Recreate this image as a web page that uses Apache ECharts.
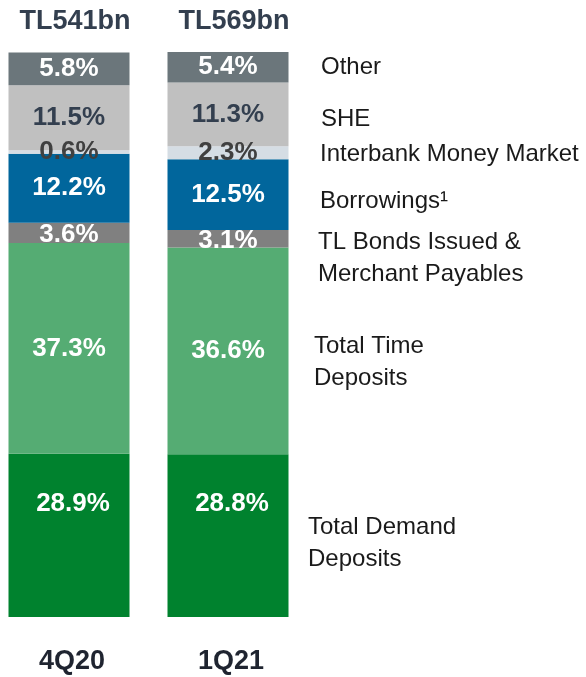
<!DOCTYPE html>
<html>
<head>
<meta charset="utf-8">
<script src="https://cdn.jsdelivr.net/npm/echarts@6/dist/echarts.min.js"></script>
<style>
  html, body { margin: 0; padding: 0; background: #fff; }
  #chart { width: 586px; height: 677px; }
</style>
</head>
<body>
<div id="chart"></div>
<script>
const periods = ["4Q20", "1Q21"];
const totals = ["TL541bn", "TL569bn"];

// stacked from bottom to top, values in %
const demandDeposits = [28.9, 28.8];
const timeDeposits = [37.3, 36.6];
const tlBonds = [3.6, 3.1];
const borrowings = [12.2, 12.5];
const interbank = [0.6, 2.3];
const she = [11.5, 11.3];
const other = [5.8, 5.4];

const FONT = "'Liberation Sans', Arial, sans-serif";

const makeSeries = (name, data, color, labelColor, extra) => ({
  name: name,
  type: "bar",
  stack: "total",
  barWidth: 121,
  data: data,
  itemStyle: { color: color },
  label: Object.assign(
    {
      show: true,
      position: "inside",
      formatter: "{c}%",
      fontFamily: FONT,
      fontWeight: "bold",
      fontSize: 26,
      color: labelColor,
    },
    extra || {}
  ),
});

const series = [
  makeSeries("Total Demand Deposits", demandDeposits, "#00822e", "#ffffff", { offset: [4, -32] }),
  makeSeries("Total Time Deposits", timeDeposits, "#55ac73", "#ffffff"),
  makeSeries("TL Bonds Issued & Merchant Payables", tlBonds, "#808080", "#ffffff", { offset: [0, 2] }),
  makeSeries("Borrowings", borrowings, "#01669c", "#ffffff"),
  makeSeries("Interbank Money Market", interbank, "#d5dde4", "#404040"),
  makeSeries("SHE", she, "#c0c0c0", "#333f4f"),
  makeSeries("Other", other, "#6b767b", "#ffffff"),
];

// legend-like text on the right
const sideLabels = [
  { text: "Other", x: 321, y: 67 },
  { text: "SHE", x: 321, y: 119 },
  { text: "Interbank Money Market", x: 320, y: 154 },
  { text: "Borrowings\u00b9", x: 320, y: 201 },
  { text: "TL Bonds Issued &\nMerchant Payables", x: 318, y: 258 },
  { text: "Total Time\nDeposits", x: 314, y: 362 },
  { text: "Total Demand\nDeposits", x: 308, y: 543 },
];

const chart = echarts.init(document.getElementById("chart"));
chart.setOption({
  animation: false,
  grid: {
    left: -10.5,
    top: 52,
    width: 318,
    bottom: 60,
    containLabel: false,
    outerBoundsMode: "none",
  },
  xAxis: [
    {
      type: "category",
      data: periods,
      position: "bottom",
      axisLine: { show: false },
      axisTick: { show: false },
      axisLabel: {
        interval: 0,
        hideOverlap: false,
        margin: 31,
        fontFamily: FONT,
        fontWeight: "bold",
        fontSize: 27,
        color: "#1f2430",
        padding: [0, 0, 0, 6],
      },
    },
    {
      type: "category",
      data: totals,
      position: "top",
      axisLine: { show: false },
      axisTick: { show: false },
      axisLabel: {
        interval: 0,
        hideOverlap: false,
        margin: 17,
        fontFamily: FONT,
        fontWeight: "bold",
        fontSize: 27,
        color: "#333f4f",
        padding: [0, 0, 0, 12],
      },
    },
  ],
  yAxis: { type: "value", min: 0, max: 100, show: false },
  series: series,
  graphic: sideLabels.map((l) => ({
    type: "text",
    x: l.x,
    y: l.y,
    style: {
      text: l.text,
      fontFamily: FONT,
      fontSize: 24,
      lineHeight: 32,
      fill: "#1a1a1a",
      verticalAlign: "middle",
    },
  })),
});
</script>
</body>
</html>
